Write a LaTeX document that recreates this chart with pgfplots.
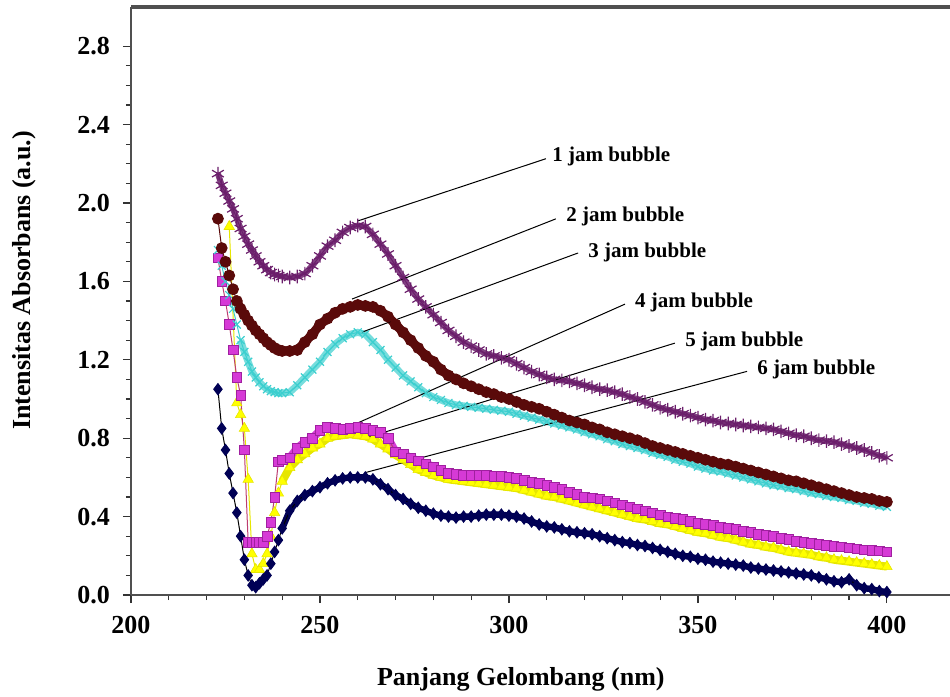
\documentclass[border=0pt]{standalone}
\usepackage{fontspec}
\setmainfont{Liberation Serif}
\usepackage{pgfplots}
\pgfplotsset{compat=1.18}
\usepackage{pgfplotstable}
\definecolor{cA}{HTML}{6B1E6B}
\definecolor{cB}{HTML}{5A0A0A}
\definecolor{cC}{HTML}{3CCFCF}
\definecolor{cD}{HTML}{D63AD6}
\definecolor{cDd}{HTML}{A020A0}
\definecolor{cE}{HTML}{FFFF00}
\definecolor{cEd}{HTML}{E6E600}
\definecolor{cF}{HTML}{000055}
\definecolor{frame}{HTML}{505050}
\pgfplotstableread{
x A B C D E F
223 2.15 1.92 1.76 1.72 nan 1.05
224 2.09 1.77 1.68 1.60 nan 0.85
225 2.05 1.70 1.60 1.50 nan 0.74
226 2.01 1.63 1.53 1.38 1.88 0.62
227 1.97 1.56 1.46 1.25 nan 0.52
228 1.92 1.50 1.38 1.11 0.98 0.42
229 1.87 1.46 1.30 1.02 0.92 0.30
230 1.83 1.43 1.24 0.74 0.85 0.18
231 1.79 1.40 1.19 0.27 0.59 0.10
232 1.76 1.375 1.14 0.27 0.21 0.05
233 1.73 1.35 1.11 0.27 0.13 0.04
234 1.70 1.33 1.085 0.27 0.13 0.06
235 1.68 1.31 1.065 0.27 0.16 0.08
236 1.66 1.29 1.05 0.30 0.21 0.10
237 1.645 1.275 1.04 0.37 0.30 0.16
238 1.635 1.26 1.035 0.50 0.42 0.22
239 1.63 1.25 1.03 0.68 0.52 0.28
240 1.625 1.245 1.03 0.69 0.58 0.34
242 1.62 1.245 1.035 0.70 0.65 0.43
244 1.625 1.25 1.07 0.75 0.69 0.48
246 1.64 1.29 1.11 0.78 0.72 0.51
248 1.68 1.33 1.15 0.80 0.75 0.53
250 1.73 1.38 1.19 0.84 0.77 0.55
252 1.78 1.41 1.24 0.855 0.80 0.57
254 1.81 1.44 1.28 0.85 0.81 0.585
256 1.85 1.46 1.31 0.845 0.815 0.595
258 1.875 1.47 1.33 0.85 0.82 0.60
260 1.885 1.48 1.34 0.855 0.815 0.60
262 1.88 1.475 1.33 0.85 0.81 0.60
264 1.84 1.47 1.29 0.84 0.795 0.59
266 1.79 1.45 1.25 0.83 0.77 0.565
268 1.74 1.42 1.20 0.80 0.745 0.54
270 1.68 1.38 1.16 0.73 0.715 0.51
272 1.62 1.34 1.12 0.72 0.69 0.49
274 1.56 1.30 1.09 0.70 0.665 0.465
276 1.51 1.26 1.06 0.685 0.64 0.445
278 1.47 1.22 1.03 0.67 0.625 0.43
280 1.43 1.19 1.01 0.655 0.61 0.415
282 1.39 1.15 0.995 0.635 0.60 0.405
284 1.35 1.12 0.98 0.62 0.59 0.40
286 1.32 1.10 0.97 0.615 0.585 0.395
288 1.29 1.08 0.965 0.61 0.58 0.40
290 1.27 1.065 0.96 0.61 0.575 0.40
292 1.25 1.05 0.955 0.61 0.57 0.405
294 1.23 1.035 0.95 0.61 0.565 0.41
296 1.22 1.025 0.945 0.605 0.56 0.41
298 1.21 1.01 0.94 0.605 0.555 0.41
300 1.20 1.00 0.935 0.60 0.55 0.405
302 1.18 0.985 0.925 0.595 0.545 0.40
304 1.16 0.97 0.915 0.585 0.535 0.39
306 1.14 0.96 0.905 0.575 0.525 0.375
308 1.125 0.95 0.895 0.57 0.515 0.36
310 1.11 0.935 0.885 0.56 0.505 0.35
312 1.10 0.92 0.875 0.55 0.50 0.345
314 1.095 0.905 0.865 0.54 0.49 0.335
316 1.09 0.89 0.855 0.525 0.48 0.325
318 1.08 0.88 0.845 0.515 0.47 0.32
320 1.07 0.87 0.83 0.50 0.46 0.315
322 1.06 0.855 0.82 0.495 0.45 0.31
324 1.05 0.845 0.81 0.49 0.44 0.30
326 1.045 0.83 0.795 0.48 0.43 0.29
328 1.035 0.82 0.785 0.47 0.42 0.28
330 1.025 0.81 0.77 0.46 0.41 0.27
332 1.01 0.80 0.76 0.45 0.40 0.265
334 1.0 0.79 0.75 0.44 0.39 0.255
336 0.985 0.775 0.74 0.43 0.385 0.25
338 0.97 0.76 0.725 0.42 0.375 0.24
340 0.955 0.75 0.715 0.41 0.365 0.23
342 0.945 0.74 0.705 0.40 0.36 0.22
344 0.935 0.73 0.69 0.39 0.35 0.21
346 0.925 0.72 0.68 0.385 0.34 0.20
348 0.915 0.71 0.67 0.375 0.33 0.195
350 0.905 0.70 0.655 0.365 0.32 0.185
352 0.895 0.69 0.645 0.36 0.315 0.18
354 0.89 0.68 0.635 0.355 0.305 0.17
356 0.88 0.67 0.63 0.345 0.295 0.165
358 0.875 0.665 0.62 0.34 0.29 0.16
360 0.87 0.655 0.61 0.335 0.28 0.155
362 0.865 0.645 0.60 0.325 0.27 0.15
364 0.86 0.635 0.59 0.32 0.26 0.14
366 0.855 0.625 0.58 0.31 0.255 0.135
368 0.85 0.615 0.57 0.305 0.245 0.13
370 0.845 0.605 0.56 0.30 0.24 0.125
372 0.835 0.595 0.555 0.29 0.23 0.12
374 0.825 0.585 0.545 0.285 0.22 0.115
376 0.815 0.58 0.54 0.275 0.215 0.11
378 0.81 0.57 0.53 0.27 0.21 0.105
380 0.80 0.56 0.52 0.265 0.205 0.10
382 0.79 0.55 0.515 0.26 0.195 0.09
384 0.785 0.54 0.505 0.255 0.19 0.08
386 0.78 0.53 0.50 0.25 0.18 0.07
388 0.77 0.52 0.495 0.245 0.175 0.065
390 0.76 0.51 0.485 0.24 0.17 0.08
392 0.75 0.50 0.48 0.235 0.165 0.05
394 0.74 0.495 0.47 0.23 0.16 0.035
396 0.725 0.49 0.465 0.228 0.155 0.03
398 0.71 0.48 0.455 0.225 0.15 0.02
400 0.70 0.475 0.45 0.22 0.145 0.015
}\spectra
\begin{document}
\begin{tikzpicture}
\begin{axis}[
  scale only axis, width=409.5bp, height=294bp,
  xmin=200, xmax=416.7, ymin=0, ymax=3.0,
  axis x line=bottom, axis y line=left,
  axis line style={-, draw=frame, line width=1bp},
  xtick={200,250,300,350,400}, minor x tick num=4,
  ytick={0,0.4,0.8,1.2,1.6,2.0,2.4,2.8}, minor y tick num=3,
  tick align=outside,
  major tick length=4bp, minor tick length=2.5bp,
  every tick/.style={black!80, line width=0.6bp},
  /pgf/number format/assume math mode=true,
  ticklabel style={font=\fontsize{13bp}{15bp}\selectfont\bfseries},
  yticklabel style={/pgf/number format/.cd, fixed, fixed zerofill, precision=1, /tikz/.cd, xshift=-3bp},
  xticklabel style={yshift=-3bp},
  xlabel={Panjang Gelombang (nm)},
  ylabel={Intensitas Absorbans (a.u.)},
  label style={font=\fontsize{13bp}{15bp}\selectfont\bfseries},
  xlabel style={at={(axis description cs:0.476,0)}, anchor=center, yshift=-42bp},
  ylabel style={at={([xshift=-53.5bp]axis description cs:0,0.535)}, anchor=center},
  clip=false,
]
\addplot[draw=cEd, line width=4bp, restrict x to domain=240:400, forget plot] table[x=x, y=E] {\spectra};
\addplot[draw=cEd, line width=0.5bp, mark=triangle*, mark size=3bp, mark options={fill=cE, draw=cEd, line width=0.3bp}] table[x=x, y=E] {\spectra};
\addplot[draw=cF, line width=3.2bp, restrict x to domain=240:400, forget plot] table[x=x, y=F] {\spectra};
\addplot[draw=black, line width=0.5bp, mark=diamond*, mark size=2.8bp, mark options={fill=cF, draw=cF}] table[x=x, y=F] {\spectra};
\addplot[draw=cD, line width=4bp, restrict x to domain=240:400, forget plot] table[x=x, y=D] {\spectra};
\addplot[draw=cDd!70!orange, line width=0.5bp, mark=square*, mark size=2.4bp, mark options={fill=cD, draw=cDd, line width=0.3bp}] table[x=x, y=D] {\spectra};
\addplot[draw=cC!70, line width=3.5bp, restrict x to domain=229:400, forget plot] table[x=x, y=C] {\spectra};
\addplot[draw=cC, line width=0.5bp, mark=x, mark size=2.8bp, mark options={draw=cC, line width=0.6bp}] table[x=x, y=C] {\spectra};
\addplot[draw=cB, line width=4.5bp, restrict x to domain=228:400, forget plot] table[x=x, y=B] {\spectra};
\addplot[draw=cB, line width=0.5bp, mark=*, mark size=2.7bp, mark options={fill=cB, draw=cB}] table[x=x, y=B] {\spectra};
\addplot[draw=cA!85, line width=3bp, forget plot] table[x=x, y=A] {\spectra};
\addplot[draw=cA, line width=0.5bp, mark=asterisk, mark size=3.4bp, mark options={draw=cA, line width=0.6bp}] table[x=x, y=A] {\spectra};
\begin{scope}[every node/.style={anchor=west, inner sep=0pt, font=\fontsize{10.5bp}{12bp}\selectfont\bfseries}]
\draw[black, line width=0.5bp] (axis cs:260.1,1.909) -- (axis cs:309.8,2.226);
\node at (axis cs:311.4,2.236) {1 jam bubble};
\draw[black, line width=0.5bp] (axis cs:258.5,1.51) -- (axis cs:312.4,1.919);
\node at (axis cs:315.1,1.929) {2 jam bubble};
\draw[black, line width=0.5bp] (axis cs:261.1,1.341) -- (axis cs:318.3,1.745);
\node at (axis cs:320.9,1.750) {3 jam bubble};
\draw[black, line width=0.5bp] (axis cs:258.5,0.865) -- (axis cs:330.7,1.484);
\node at (axis cs:333.3,1.494) {4 jam bubble};
\draw[black, line width=0.5bp] (axis cs:262.4,0.803) -- (axis cs:343.9,1.285);
\node at (axis cs:346.6,1.295) {5 jam bubble};
\draw[black, line width=0.5bp] (axis cs:261.9,0.624) -- (axis cs:363,1.141);
\node at (axis cs:365.6,1.151) {6 jam bubble};
\end{scope}
\coordinate (bl) at (rel axis cs:0,0);
\coordinate (tr) at (rel axis cs:1,1);
\end{axis}
\draw[draw=frame, line width=2bp] (bl |- tr) -- (tr);
\pgfresetboundingbox
\path[use as bounding box] ([shift={(-65.5bp,-51bp)}]bl) rectangle ([shift={(0bp,3.5bp)}]tr);
\end{tikzpicture}
\end{document}
